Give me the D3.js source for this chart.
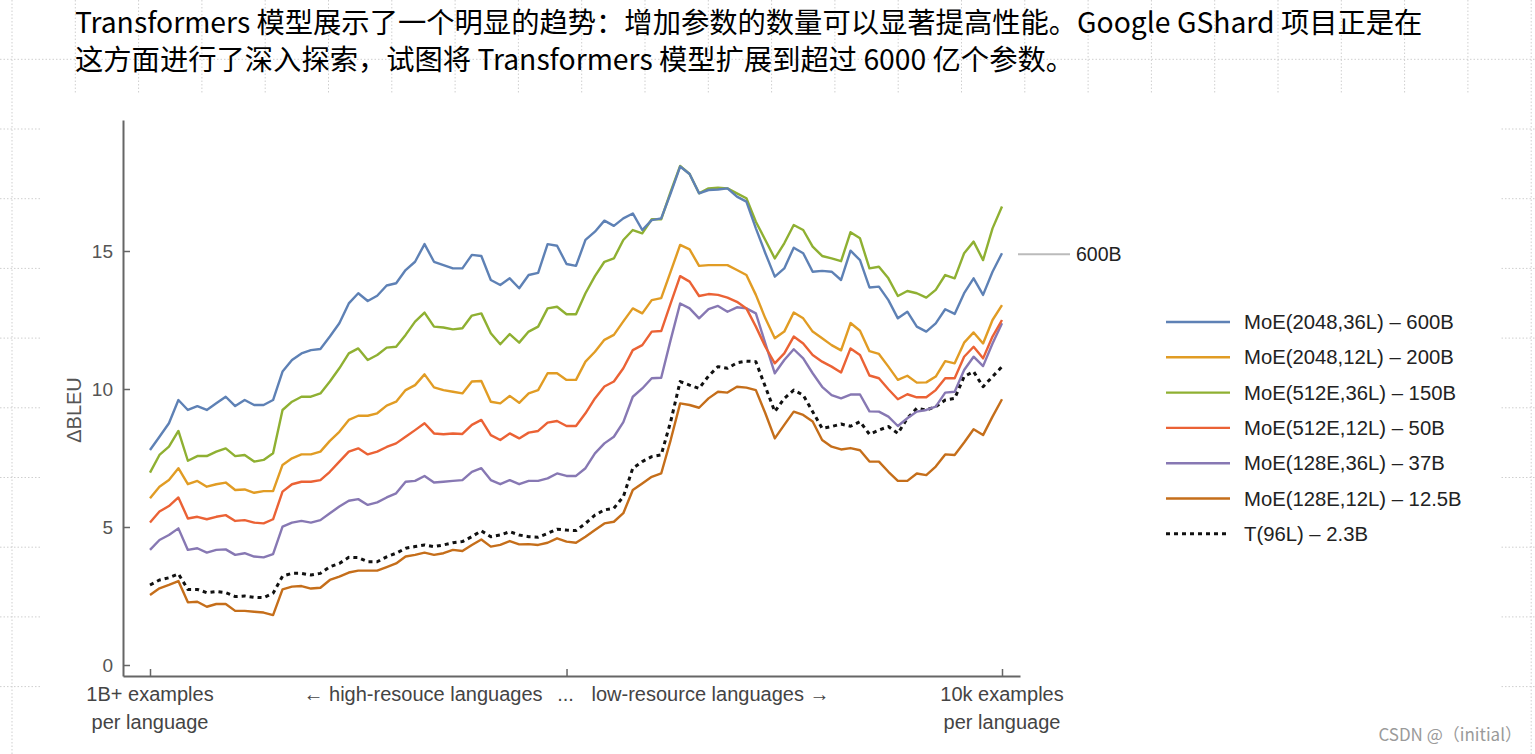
<!DOCTYPE html>
<html>
<head>
<meta charset="utf-8">
<script src="https://cdn.jsdelivr.net/npm/d3@7"></script>
<style>
  html, body { margin: 0; padding: 0; background: #fff; }
  svg { display: block; }
</style>
</head>
<body>
<svg id="chart" width="1535" height="754"></svg>
<script>
// ---------------- data ----------------
const titleLines = [
  "Transformers 模型展示了一个明显的趋势：增加参数的数量可以显著提高性能。Google GShard 项目正是在",
  "这方面进行了深入探索，试图将 Transformers 模型扩展到超过 6000 亿个参数。"
];
const yLabel = "ΔBLEU";
const yTicks = [0, 5, 10, 15];
const xTickIdx = [0, 44, 90];
const xLeftLabel = ["1B+ examples", "per language"];
const xRightLabel = ["10k examples", "per language"];
const xMidLabel = ["← high-resouce languages", "...", "low-resource languages →"];
const annotation = "600B";
const watermark = "CSDN @（initial）";

const seriesNames = [
  "MoE(2048,36L) – 600B",
  "MoE(2048,12L) – 200B",
  "MoE(512E,36L) – 150B",
  "MoE(512E,12L) – 50B",
  "MoE(128E,36L) – 37B",
  "MoE(128E,12L) – 12.5B",
  "T(96L) – 2.3B"
];
const seriesColors = ["#5e81b5", "#e19c24", "#8fb032", "#eb6235", "#8778b3", "#c56e1a", "#111111"];

const moe2048_36 = [7.79,8.27,8.76,9.60,9.24,9.38,9.24,9.48,9.72,9.38,9.60,9.42,9.42,9.60,10.63,11.05,11.29,11.41,11.45,11.90,12.38,13.10,13.47,13.19,13.38,13.75,
  13.83,14.31,14.61,15.25,14.61,14.49,14.37,14.37,14.86,14.82,13.95,13.77,14.01,13.65,14.13,14.21,15.25,15.19,14.53,14.46,15.40,15.70,16.10,15.91,16.18,
  16.36,15.76,16.12,16.18,17.09,18.06,17.79,17.09,17.21,17.23,17.27,16.97,16.79,15.82,14.92,14.07,14.37,15.12,14.92,14.25,14.28,14.25,13.95,15.01,14.67,13.68,
  13.71,13.22,12.56,12.80,12.26,12.08,12.38,12.89,12.72,13.47,14.01,13.41,14.25,14.92];
const moe2048_12 = [6.04,6.46,6.70,7.13,6.55,6.67,6.46,6.55,6.61,6.34,6.36,6.24,6.30,6.30,7.25,7.49,7.63,7.63,7.73,8.12,8.45,8.88,9.03,9.03,9.12,9.40,
  9.54,9.96,10.14,10.53,10.06,9.96,9.90,9.84,10.27,10.29,9.54,9.48,9.75,9.50,9.84,9.96,10.57,10.57,10.33,10.33,10.99,11.35,11.78,11.96,12.45,
  12.92,12.74,13.22,13.29,14.25,15.22,15.06,14.46,14.49,14.49,14.49,14.31,14.13,13.41,12.56,11.84,12.08,12.77,12.56,12.08,11.84,11.59,11.40,12.39,12.11,11.37,
  11.27,10.81,10.33,10.48,10.23,10.24,10.45,11.01,10.93,11.68,12.05,11.65,12.50,13.04];
const moe512_36 = [6.97,7.61,7.91,8.48,7.40,7.57,7.57,7.73,7.85,7.57,7.61,7.37,7.43,7.67,9.24,9.54,9.72,9.72,9.84,10.27,10.75,11.29,11.47,11.05,11.23,11.50,
  11.53,11.96,12.44,12.77,12.26,12.23,12.16,12.20,12.66,12.74,12.02,11.62,11.99,11.68,12.08,12.26,12.92,12.98,12.71,12.71,13.47,14.09,14.61,14.73,15.40,
  15.76,15.64,16.15,16.15,17.15,18.08,17.79,17.09,17.27,17.29,17.27,17.09,16.91,16.06,15.40,14.73,15.28,15.94,15.76,15.16,14.82,14.73,14.63,15.68,15.46,14.37,
  14.43,14.01,13.37,13.55,13.47,13.31,13.59,14.13,14.01,14.92,15.34,14.67,15.82,16.61];
const moe512_12 = [5.16,5.56,5.76,6.07,5.31,5.37,5.28,5.37,5.43,5.22,5.25,5.16,5.13,5.28,6.28,6.55,6.64,6.64,6.70,7.00,7.37,7.73,7.85,7.63,7.73,7.90,
  8.03,8.27,8.51,8.76,8.39,8.36,8.39,8.37,8.70,8.88,8.33,8.15,8.39,8.21,8.42,8.48,8.78,8.84,8.66,8.66,9.12,9.66,10.09,10.27,10.75,
  11.41,11.59,12.08,12.10,13.10,14.09,13.89,13.37,13.44,13.41,13.31,13.16,12.92,12.26,11.53,10.93,11.29,11.90,11.65,11.23,10.99,10.81,10.60,11.47,11.23,10.49,
  10.39,9.99,9.63,9.81,9.70,9.70,9.96,10.39,10.39,11.17,11.53,11.11,11.90,12.50];
const moe128_36 = [4.17,4.53,4.71,4.95,4.17,4.23,4.07,4.17,4.19,3.99,4.05,3.93,3.90,4.02,5.01,5.16,5.22,5.16,5.25,5.50,5.74,5.95,6.01,5.80,5.89,6.07,
  6.22,6.64,6.67,6.85,6.61,6.64,6.67,6.70,7.00,7.13,6.70,6.55,6.70,6.55,6.67,6.67,6.76,6.94,6.85,6.85,7.13,7.67,8.03,8.27,8.80,
  9.72,10.02,10.39,10.41,11.78,13.10,12.92,12.56,12.89,13.01,12.80,12.96,12.92,12.74,11.65,10.57,11.05,11.44,11.11,10.57,10.08,9.78,9.66,9.80,9.80,9.19,
  9.18,9.00,8.66,8.94,9.18,9.24,9.36,9.87,9.90,10.69,11.17,10.83,11.65,12.38];
const moe128_12 = [2.54,2.78,2.90,3.04,2.27,2.29,2.11,2.21,2.21,1.96,1.96,1.93,1.90,1.81,2.74,2.84,2.86,2.77,2.80,3.08,3.20,3.35,3.42,3.42,3.42,3.55,
  3.68,3.93,3.99,4.07,3.99,4.05,4.17,4.13,4.35,4.55,4.29,4.35,4.49,4.37,4.38,4.35,4.43,4.59,4.47,4.43,4.65,4.89,5.13,5.19,5.50,
  6.34,6.58,6.82,6.94,8.15,9.48,9.42,9.32,9.66,9.90,9.87,10.08,10.05,9.96,9.12,8.21,8.70,9.18,9.06,8.82,8.15,7.91,7.81,7.86,7.78,7.37,
  7.37,7.00,6.67,6.67,6.94,6.88,7.19,7.63,7.61,8.06,8.54,8.33,9.00,9.63];
const t96 = [2.90,3.08,3.16,3.30,2.74,2.74,2.62,2.66,2.62,2.48,2.50,2.45,2.44,2.60,3.22,3.32,3.32,3.26,3.32,3.56,3.68,3.90,3.89,3.74,3.74,3.92,
  4.05,4.23,4.29,4.35,4.29,4.35,4.43,4.47,4.65,4.86,4.65,4.71,4.83,4.71,4.65,4.63,4.77,4.92,4.89,4.87,5.13,5.43,5.62,5.68,6.10,
  7.13,7.37,7.55,7.61,8.82,10.27,10.14,10.02,10.47,10.81,10.75,10.95,11.01,10.99,10.08,9.18,9.66,9.96,9.78,9.18,8.57,8.64,8.73,8.65,8.82,8.36,
  8.51,8.64,8.39,8.94,9.30,9.24,9.36,9.60,9.66,10.45,10.63,10.08,10.45,10.81];

const seriesValues = [moe2048_36, moe2048_12, moe512_36, moe512_12, moe128_36, moe128_12, t96];

// ---------------- drawing ----------------
const svg = d3.select("#chart");
const W = 1535, H = 754;
svg.append("rect").attr("width", W).attr("height", H).attr("fill", "#fff");

// slide background grid (dotted)
const gridG = svg.append("g").attr("stroke", "#cfcfcf").attr("stroke-width", 1).attr("stroke-dasharray", "1.5,2");
const gxs = d3.range(0, 25).map(k => 12 + k * 63.3);
const gys = d3.range(-1, 10).map(k => 129 + k * 69.7);
gridG.selectAll("line.v").data(gxs).join("line").attr("x1", d => d).attr("x2", d => d).attr("y1", 0).attr("y2", H);
gridG.selectAll("line.h").data(gys).join("line").attr("x1", 0).attr("x2", W).attr("y1", d => d).attr("y2", d => d);
// chart picture (white)
svg.append("rect").attr("x", 40).attr("y", 94).attr("width", 1460).attr("height", H - 94).attr("fill", "#fff");

// title
const titleG = svg.append("g").attr("font-family", "'Noto Sans CJK SC', 'Noto Sans', sans-serif")
  .attr("font-size", 28.3).attr("fill", "#000");
titleG.selectAll("text").data(titleLines).join("text")
  .attr("x", 75).attr("y", (d, i) => 33 + i * 37).text(d => d);

// scales
const N = moe2048_36.length;
const x = d3.scaleLinear().domain([0, N - 1]).range([150, 1002]);
const y = d3.scaleLinear().domain([0, 15]).range([665, 251]);

const axisColor = "#666";
const labelColor = "#555";
const font = "'Liberation Sans', Arial, Helvetica, sans-serif";

// y axis
const yAxisScale = y.copy().domain([y.invert(676), y.invert(120)]).range([676, 120]);
const yAxisG = svg.append("g").attr("transform", "translate(123,0)")
  .call(d3.axisLeft(yAxisScale).tickValues(yTicks).tickSize(-7).tickSizeOuter(0).tickPadding(10));
yAxisG.select(".domain").attr("stroke", axisColor).attr("stroke-width", 2);
yAxisG.selectAll(".tick line").attr("stroke", axisColor).attr("stroke-width", 1.5);
yAxisG.selectAll(".tick text").attr("font-family", font).attr("font-size", 19).attr("fill", labelColor);

// x axis
const xAxisScale = x.copy().domain([x.invert(123), x.invert(1020)]).range([123, 1020]);
const xAxisG = svg.append("g").attr("transform", "translate(0,676)")
  .call(d3.axisBottom(xAxisScale).tickValues(xTickIdx).tickSize(-7).tickSizeOuter(0).tickFormat(""));
xAxisG.select(".domain").attr("stroke", axisColor).attr("stroke-width", 2);
xAxisG.selectAll(".tick line").attr("stroke", axisColor).attr("stroke-width", 1.5);

// y label
svg.append("text").attr("transform", "translate(81,410) rotate(-90)")
  .attr("text-anchor", "middle").attr("font-family", font).attr("font-size", 20)
  .attr("fill", labelColor).text(yLabel);

// x labels
const xl = svg.append("g").attr("font-family", font).attr("font-size", 20).attr("fill", "#444");
xLeftLabel.forEach((t, i) => xl.append("text").attr("x", x(xTickIdx[0])).attr("y", 701 + i * 28)
  .attr("text-anchor", "middle").text(t));
xRightLabel.forEach((t, i) => xl.append("text").attr("x", x(xTickIdx[2])).attr("y", 701 + i * 28)
  .attr("text-anchor", "middle").text(t));
const midX = x(xTickIdx[1]);
xl.append("text").attr("x", midX - 24).attr("y", 701).attr("text-anchor", "end").text(xMidLabel[0]);
xl.append("text").attr("x", midX - 1).attr("y", 701).attr("text-anchor", "middle").text(xMidLabel[1]);
xl.append("text").attr("x", midX + 25).attr("y", 701).attr("text-anchor", "start").text(xMidLabel[2]);

// lines
const line = d3.line().x((d, i) => x(i)).y(d => y(d));
const order = [5, 6, 4, 3, 1, 2, 0];
order.forEach(k => {
  svg.append("path").datum(seriesValues[k])
    .attr("d", line).attr("fill", "none")
    .attr("stroke", seriesColors[k])
    .attr("stroke-width", k === 6 ? 3 : 2.4)
    .attr("stroke-linejoin", "round")
    .attr("stroke-dasharray", k === 6 ? "4,4" : null);
});

// 600B annotation
const lastBlue = moe2048_36[N - 1];
svg.append("line").attr("x1", x(N - 1) + 16).attr("x2", x(N - 1) + 68)
  .attr("y1", y(lastBlue) + 1).attr("y2", y(lastBlue) + 1)
  .attr("stroke", "#bbb").attr("stroke-width", 2);
svg.append("text").attr("x", x(N - 1) + 74).attr("y", y(lastBlue) + 8)
  .attr("font-family", font).attr("font-size", 19.5).attr("fill", "#222").text(annotation);

// legend
const lg = svg.append("g").attr("transform", "translate(1166,322)");
const rows = lg.selectAll("g").data(seriesNames).join("g")
  .attr("transform", (d, i) => `translate(0,${i * 35.3})`);
rows.append("line").attr("x1", 0).attr("x2", 64).attr("y1", 0).attr("y2", 0)
  .attr("stroke", (d, i) => seriesColors[i]).attr("stroke-width", (d, i) => i === 6 ? 3 : 2.4)
  .attr("stroke-dasharray", (d, i) => i === 6 ? "4,4" : null);
rows.append("text").attr("x", 78).attr("y", 7).attr("font-family", font).attr("font-size", 20.3)
  .attr("fill", "#222").text(d => d);

// watermark
svg.append("text").attr("x", 1522).attr("y", 741).attr("text-anchor", "end")
  .attr("font-family", "'Noto Sans CJK SC', sans-serif").attr("font-size", 17)
  .attr("fill", "#9a9a9a").text(watermark);
</script>
</body>
</html>
